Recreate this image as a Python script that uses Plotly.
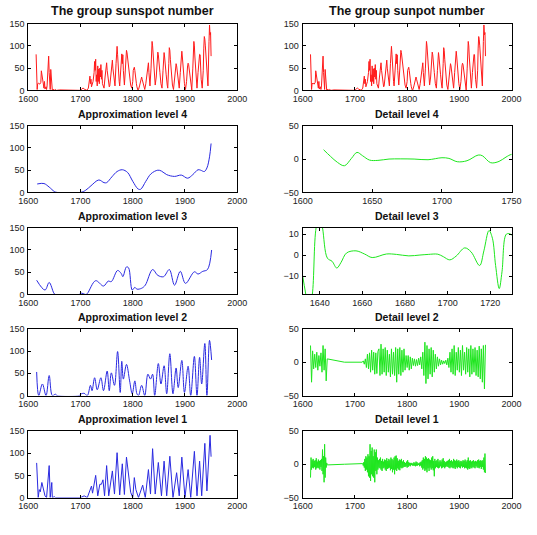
import plotly.graph_objects as go

# ---------------- data ----------------
SUN_YEARS = [1615,1616,1617,1618,1620,1622,1624,1625,1626,1627,1628,1629,1630,1631,1632,1634,1635,1636,1637,1638,1639,1640,1641,1642,1643,1644,1645,1646,1648,1650,1652,1654,1660,1670,1680,1690,1700,1703,1705,1707,1710,1712,1715,1717,1718,1719,1720,1721,1722,1724,1726,1727,1728,1729,1730,1731,1732,1733,1734,1735,1736,1737,1738,1739,1740,1741,1742,1744,1745,1747,1749,1750,1751,1753,1755,1756,1758,1760,1761,1762,1764,1766,1768,1769,1770,1771,1772,1774,1775,1776,1778,1779,1780,1781,1782,1784,1785,1787,1788,1789,1790,1791,1792,1794,1796,1798,1800,1801,1803,1804,1805,1807,1808,1810,1811,1813,1815,1817,1818,1820,1823,1825,1828,1830,1831,1833,1835,1836,1837,1838,1839,1841,1843,1845,1847,1848,1849,1850,1852,1854,1856,1858,1860,1861,1862,1864,1866,1867,1869,1870,1871,1872,1874,1876,1878,1880,1882,1883,1884,1886,1888,1889,1891,1893,1894,1895,1897,1899,1901,1903,1905,1906,1907,1909,1911,1913,1915,1917,1918,1919,1920,1922,1923,1925,1926,1928,1929,1930,1931,1933,1935,1936,1937,1938,1939,1941,1943,1944,1946,1947,1948,1949,1950]
SUN_VALS = [81,30,2,15,16,14,18,44,35,22,25,15,5,20,3,8,2,10,30,60,77,40,5,2,47,20,2,0,3,0,2,0,1,1,0,1,0,4,5,3,0,0,5,20,32,15,25,8,12,20,40,65,45,70,20,35,10,55,20,48,15,50,30,58,25,45,15,8,5,30,55,62,45,25,8,10,40,60,68,50,20,10,60,95,99,80,50,20,10,30,75,82,60,80,45,12,30,75,90,85,75,65,45,25,12,5,20,45,52,45,30,15,8,0,2,10,25,30,25,15,2,15,50,62,40,10,50,90,110,100,80,35,12,30,70,86,80,60,40,15,5,45,85,75,55,35,12,5,60,96,90,70,35,12,2,25,55,60,55,30,10,5,40,80,88,75,40,15,2,20,55,61,58,40,10,1,50,110,100,75,50,20,5,40,65,81,80,45,25,5,45,95,121,115,100,55,15,10,110,147,125,130,77]

A4_YEARS = [1617,1630,1640,1650,1655,1700,1710,1720,1735,1745,1750,1760,1770,1780,1790,1800,1810,1815,1825,1835,1848,1855,1865,1880,1893,1905,1915,1925,1930,1937,1942,1947,1950]
A4_VALS = [19,20,12,2,0,0,5,15,28,22,22,35,47,51,45,25,8,7,25,42,50,48,40,36,39,32,40,51,50,47,55,80,110]

A3_YEARS = [1616,1632,1640,1649,1652,1698,1700,1705,1710,1713,1729,1744,1753,1759,1771,1778,1781,1788,1792,1799,1804,1808,1817,1824,1838,1848,1859,1870,1880,1891,1901,1918,1925,1934,1943,1951]
A3_VALS = [32,10,27,3,0,0,3,2,0,2,31,19,30,29,54,47,40,62,60,10,16,12,14,21,56,43,40,56,21,52,25,51,46,52,56,100]

A2_YEARS = [1616,1620,1627,1634,1640,1646,1652,1655,1698,1700,1707,1713,1719,1722,1727,1732,1739,1744,1751,1755,1759,1765,1771,1776,1779,1782,1788,1794,1799,1804,1808,1811,1817,1823,1829,1834,1838,1842,1849,1854,1860,1865,1871,1877,1883,1887,1894,1899,1906,1911,1918,1923,1928,1932,1938,1942,1947,1951]
A2_VALS = [53,0,26,0,45,0,3,0,0,3,5,0,23,11,40,13,40,11,55,11,51,23,99,7,77,37,70,33,4,33,4,0,23,0,48,37,48,0,72,26,67,4,94,4,62,18,79,7,66,0,88,0,86,26,117,0,124,80]

A1_YEARS = [1616,1619,1621,1623,1626,1629,1632,1635,1640,1642,1645,1646,1650,1652,1700,1707,1713,1721,1723,1729,1733,1737,1740,1743,1746,1750,1754,1761,1765,1770,1775,1780,1784,1788,1792,1796,1800,1803,1806,1811,1819,1824,1830,1834,1838,1843,1849,1855,1860,1865,1871,1877,1884,1889,1894,1900,1906,1911,1918,1923,1928,1932,1938,1942,1948,1950]
A1_VALS = [78,0,18,13,34,19,4,0,72,0,34,0,2,0,0,4,0,26,10,50,4,30,30,40,4,72,4,60,8,101,6,76,7,91,45,12,0,45,18,0,28,0,63,8,110,8,79,4,82,4,93,0,56,4,91,0,63,0,104,4,82,4,122,15,140,92]

D4_YEARS = [1615,1620,1625,1630,1635,1639,1643,1648,1654,1662,1670,1680,1690,1700,1705,1711,1718,1726,1729,1735,1741,1746,1750,1755]
D4_VALS = [14,4,-5,-10,1,10,5,-1.5,-2,0,0.3,0,-1,2,1,-4,-2.5,6,5,-5.5,-3.5,3,7,6]

D3_YEARS = [1630,1632,1633.5,1635,1636.5,1638.3,1640,1641.3,1643.6,1645.8,1648,1650,1652.6,1657,1661,1664.6,1671.3,1676,1681.8,1687,1690.9,1695.4,1698,1701,1704,1708,1711,1715,1717,1719.4,1721,1722.5,1724.2,1725.5,1727.6,1729.9,1732]
D3_VALS = [0,-10,-19,-26,-19,13,19,13,-1.5,-3,-6.2,-3.5,1,2,0.5,-1.2,0.5,0.3,-0.4,0,0.3,0.4,-0.8,-2.3,-0.5,3.4,1.5,-5,2,11.7,8,-5,-16,-8,10,9.7,6]

# detail level 2: one value every 2 years (early active part, quiet gap, late active part)
D2_EARLY_START = 1615
D2_EARLY = [25,-30,17,-10,12,-8,15,-12,10,-6,14,-15,25,-12,20,-28,5]
D2_QUIET_YEARS = [1680, 1714]
D2_QUIET = [0, 0]
D2_LATE_START = 1716
D2_LATE = [2,-3,5,-8,12,-10,14,-15,18,-12,15,-18,14,-17,16,
           20,-20,27,-18,20,-15,22,-20,18,-15,12,-22,20,-18,15,-20,22,
           -30,20,-18,22,-20,18,-15,20,-12,10,-8,
           10,-12,8,-10,6,-5,5,-6,4,-5,6,-4,8,-10,15,
           -20,30,-32,25,-25,20,-18,22,-22,18,-15,12,-10,8,-6,
           5,-4,3,-3,2,-2,3,-4,6,-8,
           15,-15,20,-18,25,-20,15,-12,22,-15,18,-20,25,-12,15,-18,22,-15,20,-22,
           25,-18,20,-15,22,-20,18,-22,24,-25,20,-30,25,-40,26]

# detail level 1: yearly values
D1_EARLY_START = 1615
D1_EARLY = [-20,10,-8,6,-5,8,-6,5,-4,6,-8,9,-6,4,-5,7,-6,5,-8,6,-4,8,-10,22,-15,12,-27,30,-20,10,-5,2,-1]
D1_QUIET_YEARS = [1680, 1714]
D1_QUIET = [0, 0]
D1_LATE_START = 1715
D1_LATE = [1,-2,3,-5,8,-10,12,-8,10,-12,
           15,-18,12,-20,30,-25,20,-15,25,-18,
           12,-20,22,-27,18,-10,22,-15,10,-8,
           6,-5,8,-6,10,-8,5,-10,8,-6,
           4,-5,7,-8,6,-10,9,-7,5,-6,
           8,-5,6,-9,10,-7,8,-12,6,-8,
           10,-15,12,-8,13,-10,9,-6,5,-8,
           7,-9,6,-5,8,-6,4,-5,6,-4,
           3,-4,2,-3,4,-5,6,-4,3,-2,
           2,-3,2,-1,2,-2,1,-2,3,-2,
           2,-3,4,-2,3,-2,1,-1,2,-3,
           3,-2,4,-5,6,-8,10,-6,8,-10,
           12,-8,10,-12,8,-6,9,-10,7,-5,
           6,-8,10,-6,12,-9,5,-18,8,-6,
           5,-4,6,-5,8,-6,4,-5,6,-3,
           4,-6,7,-5,9,-4,5,-6,3,-4,
           4,-3,5,-4,6,-5,8,-6,5,-4,
           6,-5,4,-6,8,-5,6,-7,5,-4,
           7,-6,5,-4,6,-5,4,-6,5,-3,
           4,-5,6,-4,5,-6,7,-5,4,-6,
           6,-8,10,-6,5,-7,6,-5,4,-6,
           5,-4,6,-5,4,-6,5,-3,4,-5,
           6,-5,7,-6,5,-4,6,-7,5,-4,
           6,-8,10,-12,16,-13]


def seg(early_start, early, quiet_years, quiet, late_start, late, step):
    xs = ([early_start + step * k for k in range(len(early))] + list(quiet_years)
          + [late_start + step * k for k in range(len(late))])
    ys = list(early) + list(quiet) + list(late)
    return xs, ys

D2_YEARS, D2_VALS = seg(D2_EARLY_START, D2_EARLY, D2_QUIET_YEARS, D2_QUIET, D2_LATE_START, D2_LATE, 2)
D1_YEARS, D1_VALS = seg(D1_EARLY_START, D1_EARLY, D1_QUIET_YEARS, D1_QUIET, D1_LATE_START, D1_LATE, 1)

RED = "#ff1a1a"
BLUE = "#2a2ae0"
GREEN = "#1ee61e"

# title, x, y, color, xrange, xtick0, xdtick, yrange, ytickvals, shape, title size
panels = [
    ("The group sunspot number", SUN_YEARS, SUN_VALS, RED, [1600, 2000], 1600, 100, [0, 150], [0, 50, 100, 150], "linear", 12.5),
    ("The group sunpot number", SUN_YEARS, SUN_VALS, RED, [1600, 2000], 1600, 100, [0, 150], [0, 50, 100, 150], "linear", 12.5),
    ("Approximation level 4", A4_YEARS, A4_VALS, BLUE, [1600, 2000], 1600, 100, [0, 150], [0, 50, 100, 150], "spline", 10.5),
    ("Detail level 4", D4_YEARS, D4_VALS, GREEN, [1600, 1750], 1600, 50, [-50, 50], [-50, 0, 50], "spline", 10.5),
    ("Approximation level 3", A3_YEARS, A3_VALS, BLUE, [1600, 2000], 1600, 100, [0, 150], [0, 50, 100, 150], "spline", 10.5),
    ("Detail level 3", D3_YEARS, D3_VALS, GREEN, [1632, 1730], 1640, 20, [-18.8, 13], [-10, 0, 10], "spline", 10.5),
    ("Approximation level 2", A2_YEARS, A2_VALS, BLUE, [1600, 2000], 1600, 100, [0, 150], [0, 50, 100, 150], "spline", 10.5),
    ("Detail level 2", D2_YEARS, D2_VALS, GREEN, [1600, 2000], 1600, 100, [-50, 50], [-50, 0, 50], "linear", 10.5),
    ("Approximation level 1", A1_YEARS, A1_VALS, BLUE, [1600, 2000], 1600, 100, [0, 150], [0, 50, 100, 150], "linear", 10.5),
    ("Detail level 1", D1_YEARS, D1_VALS, GREEN, [1600, 2000], 1600, 100, [-50, 50], [-50, 0, 50], "linear", 10.5),
]

W, H = 537, 535
col_px = [(19, 236), (304, 521)]
row_px = [(19, 87), (123, 191), (227, 295), (330, 398), (434, 502)]

fig = go.Figure()
layout = dict(width=W, height=H, margin=dict(l=0, r=0, t=0, b=0),
              paper_bgcolor="white", plot_bgcolor="white", showlegend=False,
              font=dict(family="Liberation Sans, Arial, Helvetica, sans-serif", size=9, color="#222"))
annotations = []
for i, (title, xs, ys, color, xr, xt0, xdt, yr, ytv, shape, tsize) in enumerate(panels):
    r, c = divmod(i, 2)
    n = i + 1
    xa = "x" if n == 1 else f"x{n}"
    ya = "y" if n == 1 else f"y{n}"
    line = dict(color=color, width=1)
    if shape == "spline":
        line.update(shape="spline", smoothing=1.0)
    fig.add_trace(go.Scatter(x=xs, y=ys, mode="lines", line=line, xaxis=xa, yaxis=ya,
                             cliponaxis=True, hoverinfo="skip"))
    x0, x1 = col_px[c]
    y0, y1 = row_px[r]
    xdom = [x0 / W, x1 / W]
    ydom = [1 - y1 / H, 1 - y0 / H]
    common = dict(showline=True, linecolor="black", linewidth=1, mirror="ticks",
                  ticks="inside", ticklen=3, tickwidth=1, tickcolor="black",
                  showgrid=False, zeroline=False, tickfont=dict(size=9, color="#222"))
    layout["xaxis" if n == 1 else f"xaxis{n}"] = dict(domain=xdom, range=xr, tick0=xt0, dtick=xdt,
                                                       anchor=ya, **common)
    layout["yaxis" if n == 1 else f"yaxis{n}"] = dict(domain=ydom, range=yr, tickmode="array", tickvals=ytv,
                                                       anchor=xa, ticklabelstandoff=1, **common)
    annotations.append(dict(text=f"<b>{title}</b>", x=(xdom[0] + xdom[1]) / 2, y=ydom[1],
                            xref="paper", yref="paper", xanchor="center", yanchor="bottom",
                            yshift=4, showarrow=False,
                            font=dict(size=tsize, color="#111")))
layout["annotations"] = annotations
fig.update_layout(**layout)
fig.write_html("out.html")
